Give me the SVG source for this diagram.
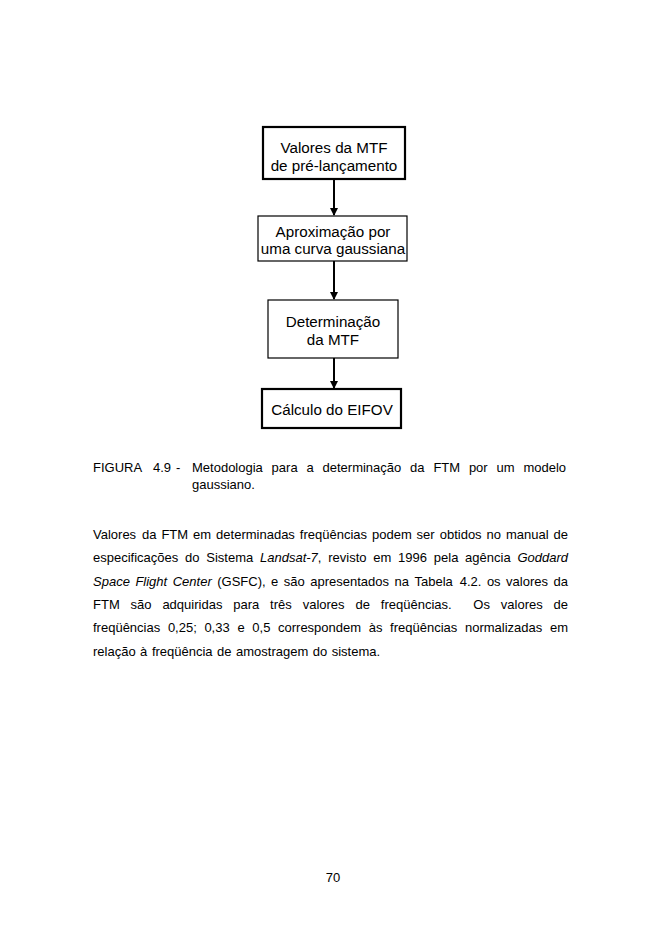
<svg xmlns="http://www.w3.org/2000/svg" width="662" height="936" viewBox="0 0 662 936">
<style>
.bx{fill:#fff;stroke:#000}
.thick{stroke-width:2.2}
.thin{stroke-width:1.2}
.bt{font-family:"Liberation Sans",Arial,sans-serif;font-size:15.2px;fill:#000;text-anchor:middle}
.t{font-family:"Liberation Sans",Arial,sans-serif;font-size:13px;fill:#000}
.i{font-style:italic}
.ln{stroke:#000;stroke-width:2;fill:none}
</style>
<defs>
<marker id="ah" markerWidth="8" markerHeight="8" refX="7" refY="4" orient="auto" markerUnits="userSpaceOnUse">
<path d="M0,0 L8,4 L0,8 z" fill="#000"/>
</marker>
</defs>
<rect width="662" height="936" fill="#fff"/>
<g id="connectors">
<line class="ln" x1="334" y1="179" x2="334" y2="215" marker-end="url(#ah)"/>
<line class="ln" x1="334" y1="261" x2="334" y2="299" marker-end="url(#ah)"/>
<line class="ln" x1="334" y1="358" x2="334" y2="388" marker-end="url(#ah)"/>
</g>
<g id="n1">
<rect class="bx thick" x="263" y="127" width="142" height="52"/>
<text class="bt" x="334" y="153">Valores da MTF</text>
<text class="bt" x="334" y="171">de pré-lançamento</text>
</g>
<g id="n2">
<rect class="bx thin" x="258" y="216" width="149" height="45"/>
<text class="bt" x="333" y="237">Aproximação por</text>
<text class="bt" x="333" y="254">uma curva gaussiana</text>
</g>
<g id="n3">
<rect class="bx thin" x="268" y="300" width="130" height="58"/>
<text class="bt" x="333" y="327">Determinação</text>
<text class="bt" x="333" y="345">da MTF</text>
</g>
<g id="n4">
<rect class="bx thick" x="262" y="389" width="139" height="39"/>
<text class="bt" x="332" y="415">Cálculo do EIFOV</text>
</g>
<g id="caption">
<text class="t" y="472"><tspan x="93">FIGURA</tspan><tspan x="153">4.9</tspan><tspan x="176">-</tspan><tspan x="192">Metodologia</tspan><tspan x="271.6">para</tspan><tspan x="306.5">a</tspan><tspan x="322.5">determinação</tspan><tspan x="410.1">da</tspan><tspan x="433.4">FTM</tspan><tspan x="468.9">por</tspan><tspan x="496.5">um</tspan><tspan x="523.4">modelo</tspan></text>
<text class="t" x="192" y="489">gaussiano.</text>
</g>
<g id="paragraph">
<text class="t" y="539"><tspan x="93">Valores</tspan><tspan x="142">da</tspan><tspan x="161.4">FTM</tspan><tspan x="193.1">em</tspan><tspan x="216.1">determinadas</tspan><tspan x="299.8">freqüências</tspan><tspan x="372">podem</tspan><tspan x="416.6">ser</tspan><tspan x="439.7">obtidos</tspan><tspan x="486.5">no</tspan><tspan x="505.9">manual</tspan><tspan x="553.5">de</tspan></text>
<text class="t" y="562"><tspan x="93">especificações</tspan><tspan x="185">do</tspan><tspan x="206.3">Sistema</tspan><tspan x="260" class="i">Landsat-7</tspan><tspan>,</tspan><tspan x="328.2">revisto</tspan><tspan x="373.2">em</tspan><tspan x="398.1">1996</tspan><tspan x="433.8">pela</tspan><tspan x="465.1">agência</tspan><tspan x="517.4" class="i">Goddard</tspan></text>
<text class="t" y="585.5"><tspan x="93" class="i">Space</tspan><tspan x="135.4" class="i">Flight</tspan><tspan x="172.7" class="i">Center</tspan><tspan x="217.2">(GSFC),</tspan><tspan x="271">e</tspan><tspan x="283.8">são</tspan><tspan x="310.2">apresentados</tspan><tspan x="394.5">na</tspan><tspan x="414.5">Tabela</tspan><tspan x="459.7">4.2.</tspan><tspan x="486.9">os</tspan><tspan x="506.1">valores</tspan><tspan x="553.5">da</tspan></text>
<text class="t" y="609"><tspan x="93">FTM</tspan><tspan x="130.6">são</tspan><tspan x="162.4">adquiridas</tspan><tspan x="233.3">para</tspan><tspan x="270.1">três</tspan><tspan x="302.7">valores</tspan><tspan x="355.5">de</tspan><tspan x="380.8">freqüências.</tspan><tspan x="473.3">Os</tspan><tspan x="500.8">valores</tspan><tspan x="553.6">de</tspan></text>
<text class="t" y="632"><tspan x="93">freqüências</tspan><tspan x="167.9">0,25;</tspan><tspan x="204.4">0,33</tspan><tspan x="237.4">e</tspan><tspan x="252.3">0,5</tspan><tspan x="278">correspondem</tspan><tspan x="368.8">às</tspan><tspan x="390.1">freqüências</tspan><tspan x="465">normalizadas</tspan><tspan x="550">em</tspan></text>
<text class="t" y="655.5"><tspan x="93">relação</tspan><tspan x="140.1">à</tspan><tspan x="151.9">freqüência</tspan><tspan x="217.1">de</tspan><tspan x="236">amostragem</tspan><tspan x="312.8">do</tspan><tspan x="331.7">sistema.</tspan></text>
</g>
<text class="t" x="333" y="882" text-anchor="middle">70</text>
</svg>
